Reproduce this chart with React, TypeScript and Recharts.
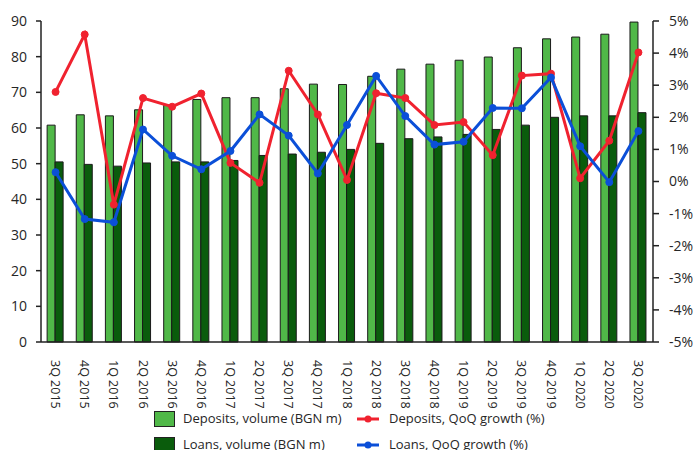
import React from "react";
import { ComposedChart, Bar, Line, XAxis, YAxis, Legend } from "recharts";

const categories = [
  "3Q 2015", "4Q 2015", "1Q 2016", "2Q 2016", "3Q 2016", "4Q 2016", "1Q 2017",
  "2Q 2017", "3Q 2017", "4Q 2017", "1Q 2018", "2Q 2018", "3Q 2018", "4Q 2018",
  "1Q 2019", "2Q 2019", "3Q 2019", "4Q 2019", "1Q 2020", "2Q 2020", "3Q 2020",
];
const depositsVolume = [
  60.8, 63.7, 63.4, 65.1, 66.4, 68.0, 68.5, 68.5, 71.0, 72.3, 72.2, 74.5, 76.5, 77.9,
  79.0, 79.9, 82.5, 85.0, 85.5, 86.3, 89.7,
];
const loansVolume = [
  50.5, 49.8, 49.3, 50.2, 50.5, 50.5, 50.9, 52.3, 52.7, 53.2, 54.0, 55.7, 57.0, 57.5,
  58.2, 59.6, 60.8, 63.0, 63.4, 63.4, 64.3,
];
const depositsGrowth = [
  2.79, 4.58, -0.72, 2.6, 2.33, 2.74, 0.58, -0.04, 3.45, 2.09, 0.05, 2.75, 2.6, 1.76,
  1.85, 0.82, 3.3, 3.36, 0.1, 1.27, 4.02,
];
const loansGrowth = [
  0.29, -1.17, -1.27, 1.62, 0.8, 0.38, 0.95, 2.09, 1.43, 0.25, 1.76, 3.29, 2.04, 1.15,
  1.24, 2.29, 2.28, 3.24, 1.1, -0.02, 1.57,
];
const leftTicks = [0, 10, 20, 30, 40, 50, 60, 70, 80, 90];
const rightTicks = [-5, -4, -3, -2, -1, 0, 1, 2, 3, 4, 5];

const data = categories.map((c, i) => ({
  cat: c,
  dep: depositsVolume[i],
  loan: loansVolume[i],
  depG: depositsGrowth[i],
  loanG: loansGrowth[i],
}));

const FONT = "'Open Sans', 'Noto Sans', sans-serif";
const TEXT = "#262626";
const AXIS = "#222";
const DEP_FILL = "#50b848";
const LOAN_FILL = "#0a5c0c";
const RED = "#f0222f";
const BLUE = "#0b4fd8";

const XTick = (props: any) => {
  const { x, y, payload } = props;
  return (
    <text
      transform={`translate(${x},${y + 10}) rotate(90)`}
      textAnchor="start"
      dominantBaseline="central"
      fontSize={12.5}
      fontFamily={FONT}
      fill={TEXT}
    >
      {payload.value}
    </text>
  );
};

const LegendContent = () => {
  const textStyle: React.CSSProperties = {
    position: "absolute",
    fontSize: 13,
    fontFamily: FONT,
    color: TEXT,
    lineHeight: "16px",
    whiteSpace: "nowrap",
  };
  const swatch = (top: number, fill: string) => (
    <div
      style={{
        position: "absolute",
        left: 154,
        top,
        width: 19,
        height: 14,
        background: fill,
        border: "1px solid #222",
      }}
    />
  );
  const lineIcon = (top: number, color: string) => (
    <svg style={{ position: "absolute", left: 356, top }} width={24} height={10}>
      <line x1={1} y1={5} x2={23} y2={5} stroke={color} strokeWidth={3} />
      <circle cx={12} cy={5} r={3.5} fill={color} />
    </svg>
  );
  return (
    <div style={{ position: "relative", width: 694, height: 55 }}>
      {swatch(6, DEP_FILL)}
      <div style={{ ...textStyle, left: 183, top: 5 }}>Deposits, volume (BGN m)</div>
      {lineIcon(9, RED)}
      <div style={{ ...textStyle, left: 389, top: 5 }}>Deposits, QoQ growth (%)</div>
      {swatch(32, LOAN_FILL)}
      <div style={{ ...textStyle, left: 183, top: 31 }}>Loans, volume (BGN m)</div>
      {lineIcon(35, BLUE)}
      <div style={{ ...textStyle, left: 389, top: 31 }}>Loans, QoQ growth (%)</div>
    </div>
  );
};

export default function App() {
  return (
    <div style={{ width: 694, height: 470, background: "#fff" }}>
      <style>{"body{margin:0;background:#fff;}"}</style>
      <ComposedChart
        width={694}
        height={470}
        data={data}
        margin={{ top: 21, right: 0, bottom: 10, left: 0 }}
        barCategoryGap="21%"
        barGap={0}
      >
        <XAxis
          dataKey="cat"
          height={63}
          interval={0}
          tick={<XTick />}
          tickLine={false}
          axisLine={{ stroke: AXIS, strokeWidth: 1.5 }}
        />
        <YAxis
          yAxisId="left"
          orientation="left"
          width={41}
          domain={[0, 90]}
          ticks={leftTicks}
          interval={0}
          tickSize={5}
          tickMargin={9}
          tick={{ fontSize: 14, fontFamily: FONT, fill: TEXT }}
          tickLine={{ stroke: AXIS, strokeWidth: 1.5 }}
          axisLine={{ stroke: AXIS, strokeWidth: 1.5 }}
        />
        <YAxis
          yAxisId="right"
          orientation="right"
          width={41}
          domain={[-5, 5]}
          ticks={rightTicks}
          interval={0}
          tickSize={6}
          tickMargin={10}
          tickFormatter={(v: number) => `${v}%`}
          tick={{ fontSize: 14, fontFamily: FONT, fill: TEXT }}
          tickLine={{ stroke: AXIS, strokeWidth: 1.5 }}
          axisLine={{ stroke: AXIS, strokeWidth: 1.5 }}
        />
        <Bar
          yAxisId="left"
          dataKey="dep"
          name="Deposits, volume (BGN m)"
          fill={DEP_FILL}
          stroke="#1a1a1a"
          strokeWidth={1}
          isAnimationActive={false}
        />
        <Bar
          yAxisId="left"
          dataKey="loan"
          name="Loans, volume (BGN m)"
          fill={LOAN_FILL}
          stroke="#1a1a1a"
          strokeWidth={1}
          isAnimationActive={false}
        />
        <Line
          yAxisId="right"
          dataKey="depG"
          name="Deposits, QoQ growth (%)"
          stroke={RED}
          strokeWidth={3}
          dot={{ r: 3.5, fill: RED, stroke: RED, strokeWidth: 1 }}
          isAnimationActive={false}
        />
        <Line
          yAxisId="right"
          dataKey="loanG"
          name="Loans, QoQ growth (%)"
          stroke={BLUE}
          strokeWidth={3}
          dot={{ r: 3.5, fill: BLUE, stroke: BLUE, strokeWidth: 1 }}
          isAnimationActive={false}
        />
        <Legend verticalAlign="bottom" align="left" height={55} content={<LegendContent />} />
      </ComposedChart>
    </div>
  );
}
